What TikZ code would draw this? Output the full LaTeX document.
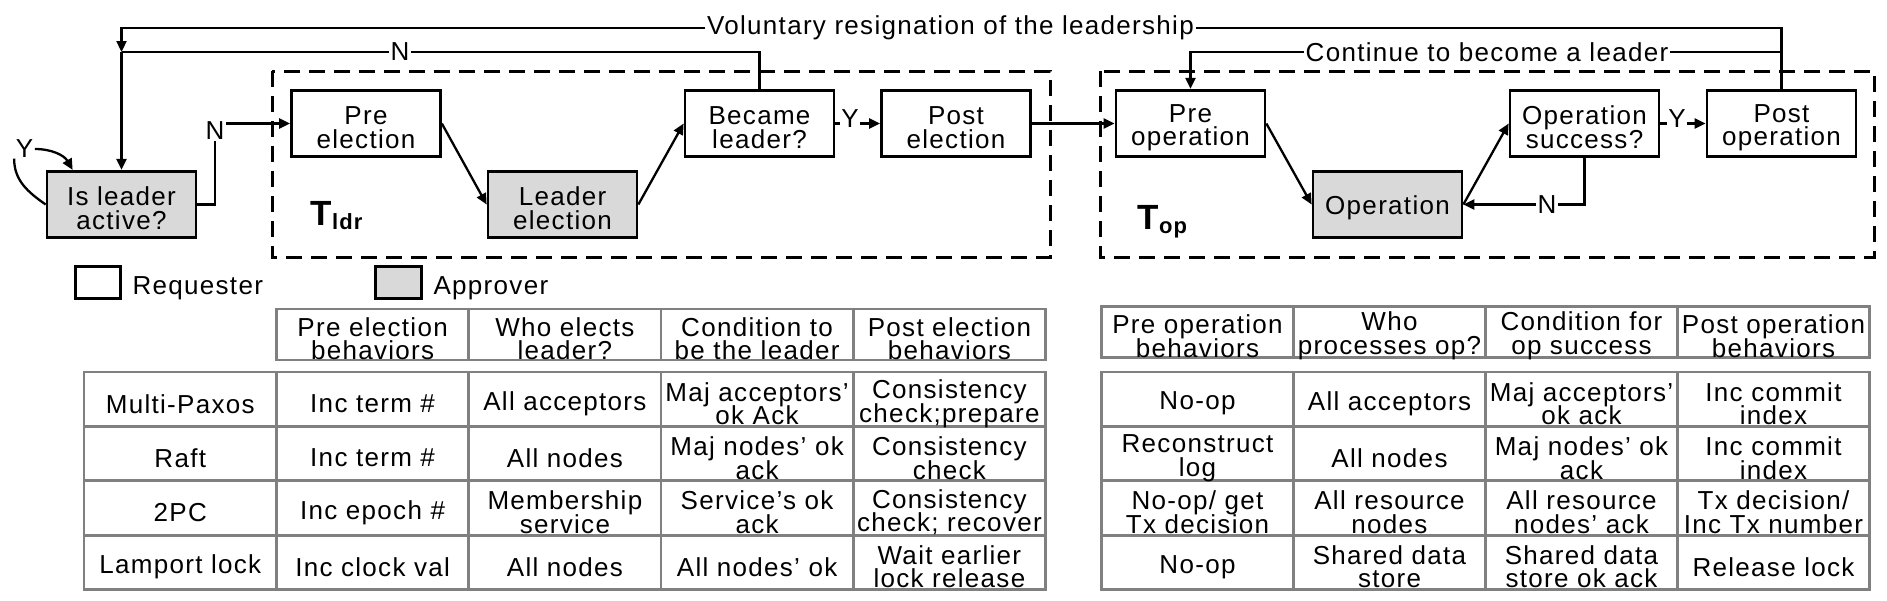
\documentclass[tikz,border=0pt]{standalone}
\usepackage{fontspec}
\setmainfont{Liberation Sans}[LetterSpace=5]
\usetikzlibrary{positioning}
\usetikzlibrary{arrows.meta}

\definecolor{apprgray}{RGB}{217,217,217}
\definecolor{tblgray}{RGB}{128,128,128}
\newcommand{\hupstrut}{\rule{0pt}{0.26cm}}
\setlength{\lineskiplimit}{-1cm}

\tikzset{
	every node/.style={font=\fontsize{7.4pt}{6.7pt}\selectfont},
	reqbox/.style={draw, line width=0.027cm, minimum width=1.49cm, minimum height=0.665cm, inner sep=0pt, align=center, execute at begin node={\hupstrut}},
	apprbox/.style={reqbox, fill=apprgray},
	phase/.style={draw, dash pattern=on 0.16cm off 0.09cm, line width=0.03cm},
	conn/.style={line width=0.023cm},
	arr/.style={conn, -{Triangle[length=0.11cm,width=0.1cm]}},
	lbl/.style={fill=white, inner xsep=0.01cm, inner ysep=0pt},
	tbl/.style={draw=tblgray, line width=0.028cm},
	cellt/.style={align=center, inner sep=0pt},
	phaselbl/.style={font=\bfseries\fontsize{9.96pt}{10pt}\selectfont, anchor=base west, inner sep=0pt},
}

\begin{document}
\begin{tikzpicture}
			\useasboundingbox (0,0) rectangle (18.87,-6.00);
			% phases
			\draw[phase] (2.72,-0.71) rectangle (10.50,-2.57);
			\draw[phase] (11.00,-0.71) rectangle (18.74,-2.57);
			\node at (3.10,-2.25) (tldr) [phaselbl] {T\raisebox{-0.04cm}{\fontsize{6.26pt}{6.3pt}\selectfont ldr}};
			\node at (11.37,-2.29) (top) [phaselbl] {T\raisebox{-0.04cm}{\fontsize{6.26pt}{6.3pt}\selectfont op}};
			% steps
			\node at (1.215,-2.045) (isactive) [apprbox] {\hupstrut Is leader\\active?};
			\node at (3.66,-1.235) (preel) [reqbox] {\hupstrut Pre\\election};
			\node at (5.625,-2.045) (ldrel) [apprbox] {\hupstrut Leader\\election};
			\node at (7.595,-1.235) (became) [reqbox] {\hupstrut Became\\leader?};
			\node at (9.56,-1.235) (postel) [reqbox] {\hupstrut Post\\election};
			\node at (11.905,-1.235) (preop) [reqbox] {\hupstrut Pre\\operation};
			\node at (13.875,-2.045) (oper) [apprbox] {Operation};
			\node at (15.845,-1.235) (opsucc) [reqbox] {\hupstrut Operation\\success?};
			\node at (17.815,-1.235) (postop) [reqbox] {\hupstrut Post\\operation};
			% labels on the connectors
			\node at (9.505,-0.28) (lblvol) [lbl] {Voluntary resignation of the leadership};
			\node at (14.87,-0.52) (lblcont) [lbl] {Continue to become a leader};
			\node at (4.00,-0.52) (lbln1) [lbl] {N};
			\node at (0.245,-1.49) (lbly1) [lbl] {Y};
			\node at (2.15,-1.31) (lbln2) [lbl] {N};
			\node at (8.50,-1.19) (lbly2) [lbl] {Y};
			\node at (16.77,-1.19) (lbly3) [lbl] {Y};
			\node at (15.47,-2.045) (lbln3) [lbl] {N};
			\coordinate (jn) at (1.215,-0.52);
			\coordinate (cj) at (17.815,-0.52);
			% connectors
			\draw[conn] (postop.north) |- (lblvol.east); \draw[arr] (lblvol.west) -| (jn);
			\draw[conn] (cj) -- (lblcont.east); \draw[arr] (lblcont.west) -| (preop.north);
			\draw[conn] (became.north) |- (lbln1.east); \draw[conn] (lbln1.west) -- (jn);
			\draw[arr] (jn) -- (isactive.north);
			\draw[conn] (isactive.west) to[out=145,in=-90] (lbly1.south west);
			\draw[arr] (lbly1.east) to[out=0,in=120] ([xshift=0.27cm]isactive.north west);
			\draw[conn] (isactive.east) -| (lbln2.south); \draw[arr] (lbln2.east |- preel.west) -- (preel.west);
			\draw[arr] (preel.east) -- (ldrel.west);
			\draw[arr] (ldrel.east) -- (became.west);
			\draw[conn] (became.east) -- (lbly2.west |- became.east); \draw[arr] (lbly2.east |- became.east) -- (postel.west);
			\draw[arr] (postel.east) -- (preop.west);
			\draw[arr] (preop.east) -- (oper.west);
			\draw[arr] (oper.east) -- (opsucc.west);
			\draw[conn] (opsucc.east) -- (lbly3.west |- opsucc.east); \draw[arr] (lbly3.east |- opsucc.east) -- (postop.west);
			\draw[conn] (opsucc.south) |- (lbln3.east); \draw[arr] (lbln3.west) -- (oper.east);
			% legend
			\node at (0.98,-2.825) (legreq) [reqbox, minimum width=0.45cm, minimum height=0.32cm] {};
			\node [right=0.1cm of legreq, inner sep=0pt, yshift=-0.06cm] (legreqtxt) {Requester};
			\node at (3.985,-2.825) (legappr) [apprbox, minimum width=0.46cm, minimum height=0.32cm] {};
			\node [right=0.1cm of legappr, inner sep=0pt, yshift=-0.06cm] (legapprtxt) {Approver};
			% left table
			\draw[tbl] (2.765,-3.09) rectangle (10.455,-3.60);
			\draw[tbl] (4.6875,-3.09) -- (4.6875,-3.60) (6.61,-3.09) -- (6.61,-3.60) (8.5325,-3.09) -- (8.5325,-3.60);
			\draw[tbl] (0.84,-3.72) rectangle (10.455,-5.895);
			\draw[tbl] (2.765,-3.72) -- (2.765,-5.895) (4.6875,-3.72) -- (4.6875,-5.895) (6.61,-3.72) -- (6.61,-5.895) (8.5325,-3.72) -- (8.5325,-5.895);
			\draw[tbl] (0.84,-4.26375) -- (10.455,-4.26375) (0.84,-4.8075) -- (10.455,-4.8075) (0.84,-5.35125) -- (10.455,-5.35125);
			\node at (3.726,-3.385) (lh1) [cellt] {Pre election\\behaviors};
			\node at (5.649,-3.385) (lh2) [cellt] {Who elects\\leader?};
			\node at (7.571,-3.385) (lh3) [cellt] {Condition to\\be the leader};
			\node at (9.494,-3.385) (lh4) [cellt] {Post election\\behaviors};
			\node at (1.8025,-4.037) (l10) [cellt] {Multi-Paxos};
			\node at (3.726,-4.037) (l11) [cellt] {Inc term \#};
			\node at (5.649,-4.037) (l12) [cellt] {All acceptors};
			\node at (7.571,-4.037) (l13) [cellt] {Maj acceptors'\\ok Ack};
			\node at (9.494,-4.037) (l14) [cellt] {Consistency\\check;prepare};
			\node at (1.8025,-4.581) (l20) [cellt] {Raft};
			\node at (3.726,-4.581) (l21) [cellt] {Inc term \#};
			\node at (5.649,-4.581) (l22) [cellt] {All nodes};
			\node at (7.571,-4.581) (l23) [cellt] {Maj nodes' ok\\ack};
			\node at (9.494,-4.581) (l24) [cellt] {Consistency\\check};
			\node at (1.8025,-5.124) (l30) [cellt] {2PC};
			\node at (3.726,-5.124) (l31) [cellt] {Inc epoch \#};
			\node at (5.649,-5.124) (l32) [cellt] {Membership\\service};
			\node at (7.571,-5.124) (l33) [cellt] {Service's ok\\ack};
			\node at (9.494,-5.124) (l34) [cellt] {Consistency\\check; recover};
			\node at (1.8025,-5.668) (l40) [cellt] {Lamport lock};
			\node at (3.726,-5.668) (l41) [cellt] {Inc clock val};
			\node at (5.649,-5.668) (l42) [cellt] {All nodes};
			\node at (7.571,-5.668) (l43) [cellt] {All nodes' ok};
			\node at (9.494,-5.668) (l44) [cellt] {Wait earlier\\lock release};
			% right table
			\draw[tbl] (11.015,-3.065) rectangle (18.695,-3.575);
			\draw[tbl] (12.935,-3.065) -- (12.935,-3.575) (14.855,-3.065) -- (14.855,-3.575) (16.775,-3.065) -- (16.775,-3.575);
			\draw[tbl] (11.015,-3.72) rectangle (18.695,-5.895);
			\draw[tbl] (12.935,-3.72) -- (12.935,-5.895) (14.855,-3.72) -- (14.855,-5.895) (16.775,-3.72) -- (16.775,-5.895);
			\draw[tbl] (11.015,-4.26375) -- (18.695,-4.26375) (11.015,-4.8075) -- (18.695,-4.8075) (11.015,-5.35125) -- (18.695,-5.35125);
			\node at (11.975,-3.36) (rh1) [cellt] {Pre operation\\behaviors};
			\node at (13.895,-3.36) (rh2) [cellt] {Who\\processes op?};
			\node at (15.815,-3.36) (rh3) [cellt] {Condition for\\op success};
			\node at (17.735,-3.36) (rh4) [cellt] {Post operation\\behaviors};
			\node at (11.975,-4.037) (r11) [cellt] {No-op};
			\node at (13.895,-4.037) (r12) [cellt] {All acceptors};
			\node at (15.815,-4.037) (r13) [cellt] {Maj acceptors'\\ok ack};
			\node at (17.735,-4.037) (r14) [cellt] {Inc commit\\index};
			\node at (11.975,-4.581) (r21) [cellt] {Reconstruct\\log};
			\node at (13.895,-4.581) (r22) [cellt] {All nodes};
			\node at (15.815,-4.581) (r23) [cellt] {Maj nodes' ok\\ack};
			\node at (17.735,-4.581) (r24) [cellt] {Inc commit\\index};
			\node at (11.975,-5.124) (r31) [cellt] {No-op/ get\\Tx decision};
			\node at (13.895,-5.124) (r32) [cellt] {All resource\\nodes};
			\node at (15.815,-5.124) (r33) [cellt] {All resource\\nodes' ack};
			\node at (17.735,-5.124) (r34) [cellt] {Tx decision/\\Inc Tx number};
			\node at (11.975,-5.668) (r41) [cellt] {No-op};
			\node at (13.895,-5.668) (r42) [cellt] {Shared data\\store};
			\node at (15.815,-5.668) (r43) [cellt] {Shared data\\store ok ack};
			\node at (17.735,-5.668) (r44) [cellt] {Release lock};
\end{tikzpicture}
\end{document}
